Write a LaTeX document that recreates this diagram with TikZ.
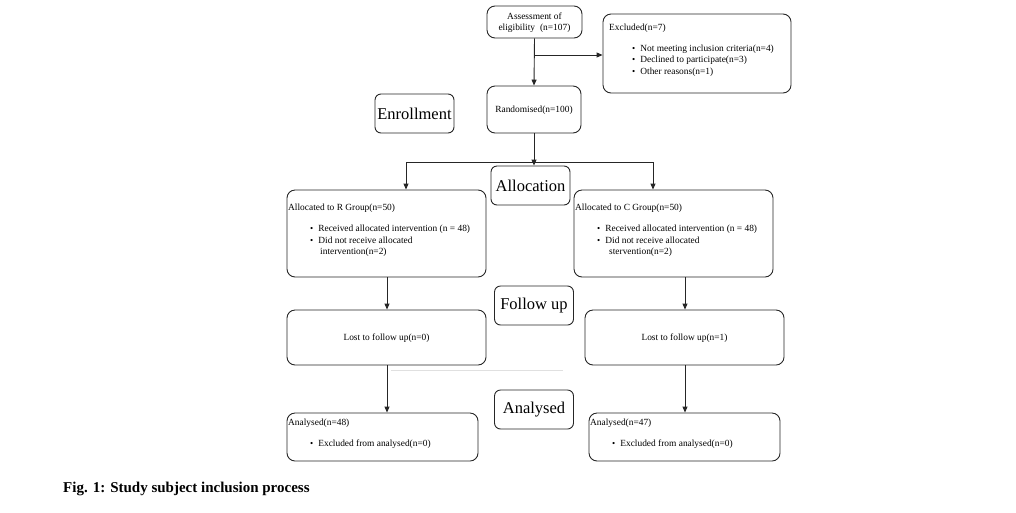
\documentclass[tikz,border=0pt]{standalone}
\usepackage{fontspec}
\setmainfont{Liberation Serif}
\usetikzlibrary{arrows.meta}
\tikzset{
  box/.style={draw=black!85, line width=0.9pt, rounded corners=8pt, inner sep=0pt},
  txt/.style={font=\fontsize{9.4}{11}\selectfont, inner sep=0pt, anchor=west},
  ctxt/.style={font=\fontsize{9.4}{11}\selectfont, inner sep=0pt, align=center},
  stage/.style={draw=black!85, line width=0.9pt, rounded corners=6pt, minimum width=79pt, minimum height=39pt, font=\fontsize{16.5}{18}\selectfont, inner sep=0pt},
  conn/.style={draw=black!85, line width=0.9pt},
  arr/.style={conn, -{Triangle[length=6pt,width=5pt]}},
}
\newcommand{\bul}{{\fontsize{9}{10}\selectfont\textbullet}\hspace{5pt}}
\begin{document}
\begin{tikzpicture}[x=1pt,y=-1pt]
\useasboundingbox (0,0) rectangle (1016,512);
% boxes
\node[box, minimum width=95pt, minimum height=32pt] (assess) at (534.5,22) {};
\node[ctxt] (assesst) at (534.5,22.5) {Assessment of\\eligibility\hspace{5pt}(n=107)};
\node[box, minimum width=188pt, minimum height=79pt] (excl) at (697,53.5) {};
\node[txt] (exclt) at (609,28) {Excluded(n=7)};
\node[txt] (ex1) at (632,49) {\bul Not meeting inclusion criteria(n=4)};
\node[txt] (ex2) at (632,60.5) {\bul Declined to participate(n=3)};
\node[txt] (ex3) at (632,72) {\bul Other reasons(n=1)};

\node[stage] (enrol) at (414.5,113.5) {Enrollment};
\node[box, minimum width=94pt, minimum height=47pt] (rand) at (534,109.5) {};
\node[ctxt] (randt) at (534,110) {Randomised(n=100)};

\node[stage] (alloc) at (530.5,185.5) {Allocation};
\node[box, minimum width=199pt, minimum height=87pt] (rg) at (386.5,233.5) {};
\node[txt] (rgt) at (288,208) {Allocated to R Group(n=50)};
\node[txt] (rg1) at (310,229) {\bul Received allocated intervention (n = 48)};
\node[txt] (rg2) at (310,240.5) {\bul Did not receive allocated};
\node[txt] (rg3) at (320,252) {intervention(n=2)};

\node[box, minimum width=199pt, minimum height=87pt] (cg) at (673.5,233.5) {};
\node[txt] (cgt) at (575,208) {Allocated to C Group(n=50)};
\node[txt] (cg1) at (597,229) {\bul Received allocated intervention (n = 48)};
\node[txt] (cg2) at (597,240.5) {\bul Did not receive allocated};
\node[txt] (cg3) at (609,252) {stervention(n=2)};

\node[stage] (follow) at (534,305.5) {Follow up};
\node[box, minimum width=199pt, minimum height=55pt] (lr) at (386.5,337.5) {};
\node[ctxt] (lrt) at (386.5,338) {Lost to follow up(n=0)};
\node[box, minimum width=199pt, minimum height=55pt] (lc) at (684.5,337.5) {};
\node[ctxt] (lct) at (684.5,338) {Lost to follow up(n=1)};

\node[stage] (anal) at (534,409.5) {Analysed};
\node[box, minimum width=191pt, minimum height=48pt] (ar) at (382.5,437) {};
\node[txt] (art) at (288,423) {Analysed(n=48)};
\node[txt] (ar1) at (310,444) {\bul Excluded from analysed(n=0)};
\node[box, minimum width=191pt, minimum height=48pt] (ac) at (684.5,437) {};
\node[txt] (act) at (590,423) {Analysed(n=47)};
\node[txt] (ac1) at (612,444) {\bul Excluded from analysed(n=0)};

\node[font=\fontsize{15}{17}\selectfont\bfseries, inner sep=0pt, anchor=west] (cap) at (63,488.5) {Fig. 1: Study subject inclusion process};

% connectors
\draw[arr] (assess.south) -- (rand.north);
\coordinate (br) at (534.5,55);
\draw[arr] (br) -- (excl.west |- br);
\draw[arr] (rand.south) -- (rand.south |- alloc.north);
\coordinate (sl) at (406,162);
\coordinate (sr) at (653,162);
\draw[conn] (sl) -- (sr);
\draw[arr] (sl) -- (sl |- rg.north);
\draw[arr] (sr) -- (sr |- cg.north);
\draw[arr] (rg.south -| 387,0) -- (lr.north -| 387,0);
\draw[arr] (cg.south -| 685,0) -- (lc.north -| 685,0);
\draw[arr] (lr.south -| 387,0) -- (ar.north -| 387,0);
\draw[arr] (lc.south -| 685,0) -- (ac.north -| 685,0);
\coordinate (g1) at (391,370);
\coordinate (g2) at (563,370);
\draw[black!12, line width=0.6pt] (g1) -- (g2);
\end{tikzpicture}
\end{document}
